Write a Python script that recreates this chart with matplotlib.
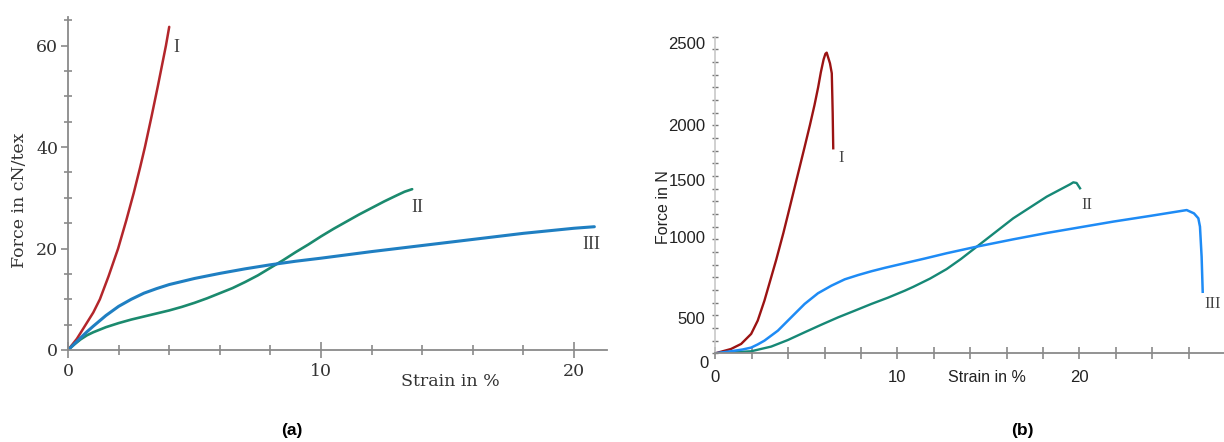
import matplotlib
matplotlib.use("Agg")
import matplotlib.pyplot as plt
from matplotlib.ticker import FixedLocator, MultipleLocator

# ---- panel (a): force in cN/tex vs strain %
a_I_x = [0, 0.35, 0.7, 1.0, 1.26, 1.6, 1.98, 2.3, 2.6, 2.85, 3.04, 3.3, 3.55, 3.75, 3.87, 4.0]
a_I_y = [0, 2.2, 5.0, 7.4, 10.0, 14.5, 20.0, 25.5, 31.0, 36.0, 40.0, 46.0, 52.0, 57.0, 60.0, 63.7]
a_II_x = [0, 0.25, 0.5, 0.75, 1, 1.5, 2, 2.5, 3, 3.5, 4, 4.5, 5, 5.5, 6, 6.5, 7, 7.5, 8,
          8.5, 9, 9.5, 10, 10.5, 11, 11.5, 12, 12.5, 13, 13.3, 13.6]
a_II_y = [0, 1.1, 2.1, 2.9, 3.5, 4.5, 5.3, 6.0, 6.6, 7.2, 7.8, 8.5, 9.3, 10.2, 11.2, 12.2, 13.4, 14.7, 16.2,
          17.7, 19.3, 20.8, 22.4, 23.9, 25.3, 26.7, 28.0, 29.3, 30.5, 31.2, 31.7]
a_III_x = [0, 0.25, 0.5, 0.75, 1, 1.5, 2, 2.5, 3, 3.5, 4, 5, 6, 7, 8, 9, 10, 12, 14, 16, 18, 20, 20.8]
a_III_y = [0, 1.2, 2.4, 3.6, 4.7, 6.8, 8.6, 10.0, 11.2, 12.1, 12.9, 14.1, 15.1, 16.0, 16.8, 17.5, 18.1,
           19.4, 20.6, 21.8, 23.0, 24.0, 24.3]

# ---- panel (b): force in N vs strain %
b_I_x = [0, 0.86, 1.42, 1.97, 2.33, 2.70, 3.07, 3.35, 3.74, 4.0, 4.3, 4.6, 4.9, 5.2, 5.45,
         5.65, 5.8, 5.95, 6.05, 6.12, 6.30, 6.40, 6.43, 6.45, 6.48]
b_I_y = [0, 34, 74, 153, 258, 416, 600, 740, 950, 1100, 1275, 1450, 1625, 1803, 1960,
         2100, 2220, 2320, 2365, 2374, 2290, 2211, 2026, 1895, 1619]
b_II_x = [0, 1.97, 3.07, 3.99, 4.91, 5.83, 6.75, 7.67, 8.58, 9.5, 10.42, 10.88, 11.8, 12.71, 13.5,
          14.36, 16.37, 18.21, 19.5, 19.67, 19.85, 20.04]
b_II_y = [0, 16, 53, 105, 166, 226, 284, 337, 390, 440, 495, 525, 590, 665, 745,
          841, 1066, 1237, 1335, 1350, 1345, 1303]
b_III_x = [0, 0.86, 1.5, 1.97, 2.33, 2.70, 3.44, 4.17, 4.91, 5.64, 6.38, 7.11, 7.85, 8.58, 9.32,
           10.42, 11.5, 12.71, 14.36, 16.37, 18.21, 20.04, 21.87, 23.9, 25.9, 26.3, 26.54, 26.63,
           26.72, 26.78]
b_III_y = [0, 16, 30, 45, 70, 100, 179, 284, 390, 474, 534, 584, 618, 648, 675,
           712, 748, 790, 842, 900, 950, 995, 1040, 1085, 1131, 1105, 1066, 1000,
           763, 486]

b_ytick_labels = ['500', '1000', '1500', '2000', '2500']

W, H = 1224, 442
fig = plt.figure(figsize=(W / 100, H / 100), dpi=100)

def px(x0, y0, x1, y1):
    # pixel box -> figure fraction rect
    return [x0 / W, 1 - y1 / H, (x1 - x0) / W, (y1 - y0) / H]

serif = ['DejaVu Serif']
sans = ['Liberation Sans', 'DejaVu Sans']
axcol = '#8a8a8a'

# ---------------- (a)
ax1 = fig.add_axes(px(68, 16.7, 607, 350))
ax1.plot(a_I_x, a_I_y, color='#b3262b', lw=1.8, solid_capstyle='round')
ax1.plot(a_II_x, a_II_y, color='#1b8a6e', lw=1.9, solid_capstyle='round')
ax1.plot(a_III_x, a_III_y, color='#1f7fc2', lw=2.2, solid_capstyle='round')
ax1.set_xlim(0, 21.3)
ax1.set_ylim(0, 65.7)
for s in ['top', 'right']:
    ax1.spines[s].set_visible(False)
for s in ['left', 'bottom']:
    ax1.spines[s].set_color(axcol)
    ax1.spines[s].set_linewidth(1.3)
ax1.set_xticks([0, 10, 20])
ax1.set_xticklabels(['0', '10', '20'], family=serif, fontsize=12.5, color='#333')
ax1.xaxis.set_minor_locator(MultipleLocator(2))
ax1.tick_params(axis='x', which='major', direction='inout', length=11, width=1.2, color=axcol, pad=4)
ax1.tick_params(axis='x', which='minor', direction='inout', length=7, width=1.2, color=axcol)
ax1.set_yticks([0, 20, 40, 60])
ax1.set_yticklabels(['0', '20', '40', '60'], family=serif, fontsize=12.5, color='#333')
ax1.yaxis.set_minor_locator(FixedLocator([5, 10, 15, 25, 30, 35, 45, 50, 55, 65]))
ax1.tick_params(axis='y', which='major', direction='out', length=5, width=1.2, color=axcol, pad=2)
ax1.tick_params(axis='y', which='minor', direction='inout', length=6, width=1.2, color=axcol)
ax1.patch.set_alpha(0)

ax1.annotate('I', xy=(a_I_x[-1], a_I_y[-1]), xytext=(5, -15), textcoords='offset points',
             family=['Liberation Serif'], fontsize=13, color='#444', ha='center', va='center')
ax1.annotate('II', xy=(a_II_x[-1], a_II_y[-1]), xytext=(4, -13), textcoords='offset points',
             family=['Liberation Serif'], fontsize=13, color='#444', ha='center', va='center')
ax1.annotate('III', xy=(a_III_x[-1], a_III_y[-1]), xytext=(-2, -13), textcoords='offset points',
             family=['Liberation Serif'], fontsize=13, color='#444', ha='center', va='center')

fig.text(450 / W, 1 - 381 / H, 'Strain in %', family=serif, fontsize=12.5, color='#333',
         ha='center', va='center')
fig.text(20 / W, 1 - 200 / H, 'Force in cN/tex', family=serif, fontsize=12.5, color='#333',
         ha='center', va='center', rotation=90)

# ---------------- (b)
ax2 = fig.add_axes(px(715.3, 36.7, 1224, 353.3))
ax2.plot(b_I_x, b_I_y, color='#9b1313', lw=1.7)
ax2.plot(b_II_x, b_II_y, color='#168876', lw=1.7)
ax2.plot(b_III_x, b_III_y, color='#1e8bf5', lw=1.8)
ax2.set_xlim(0, 27.95)
ax2.set_ylim(0, 2500)
for s in ['top', 'right']:
    ax2.spines[s].set_visible(False)
ax2.spines['left'].set_color('#c8c8c8')
ax2.spines['bottom'].set_color(axcol)
ax2.spines['left'].set_linewidth(1.2)
ax2.spines['bottom'].set_linewidth(1.3)
ax2.set_xticks([0, 10, 20])
ax2.set_xticklabels(['0', '10', '20'], family=sans, fontsize=12, color='#222')
ax2.xaxis.set_minor_locator(MultipleLocator(2))
ax2.tick_params(axis='x', which='major', direction='inout', length=8, width=1.2, color=axcol, pad=8)
ax2.tick_params(axis='x', which='minor', direction='inout', length=8, width=1.2, color=axcol)
# tick labels sit where the original figure prints them (not on the 100 N grid)
ax2.set_yticks([276, 921, 1369, 1803, 2450])
ax2.set_yticklabels(b_ytick_labels, family=sans, fontsize=12, color='#222')
ax2.yaxis.set_minor_locator(MultipleLocator(100))
ax2.tick_params(axis='y', which='major', length=0, pad=7)
ax2.tick_params(axis='y', which='minor', direction='inout', length=5, width=1.0, color='#777')
ax2.patch.set_alpha(0)
ax2.text(-7 / 508.7, -10 / 316.6, '0', transform=ax2.transAxes, family=sans, fontsize=12,
         color='#222', ha='right', va='center')

ax2.annotate('I', xy=(b_I_x[-1], b_I_y[-1]), xytext=(6, -7), textcoords='offset points',
             family=['Liberation Serif'], fontsize=12, color='#444', ha='center', va='center')
ax2.annotate('II', xy=(b_II_x[-1], b_II_y[-1]), xytext=(5, -12), textcoords='offset points',
             family=['Liberation Serif'], fontsize=12, color='#444', ha='center', va='center')
ax2.annotate('III', xy=(b_III_x[-1], b_III_y[-1]), xytext=(7, -9), textcoords='offset points',
             family=['Liberation Serif'], fontsize=12, color='#444', ha='center', va='center')

fig.text(987 / W, 1 - 377 / H, 'Strain in %', family=sans, fontsize=11.5, color='#222',
         ha='center', va='center')
fig.text(663 / W, 1 - 207 / H, 'Force in N', family=sans, fontsize=11.5, color='#222',
         ha='center', va='center', rotation=90)

# captions
fig.text(292 / W, 1 - 430 / H, '(a)', family=['Liberation Sans'], fontweight='bold',
         fontsize=12.5, ha='center', va='center')
fig.text(1022 / W, 1 - 430 / H, '(b)', family=['Liberation Sans'], fontweight='bold',
         fontsize=12.5, ha='center', va='center')

fig.savefig('out.png', dpi=100, facecolor='white')
